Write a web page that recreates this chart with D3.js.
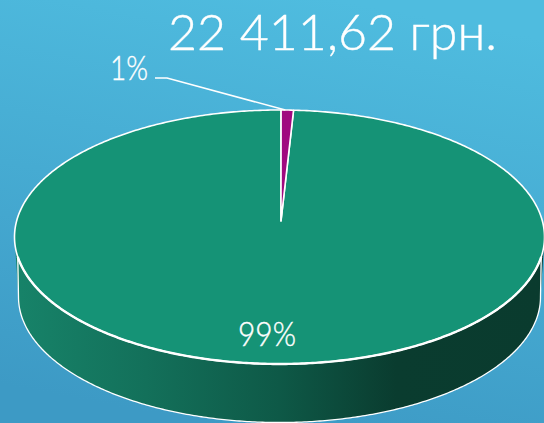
<!DOCTYPE html>
<html>
<head>
    <meta charset="utf-8">
    <title>pie</title>
    <script type="text/javascript" src="https://d3js.org/d3.v7.min.js"></script>
    <style>
        html,body{
            margin:0;
            padding:0;
            overflow:hidden;
        }
        text{
            font-family:"Lato",sans-serif;
            font-weight:300;
            fill:#fff;
            stroke:#fff;
            stroke-width:.4px;
        }
    </style>
</head>
<body>
<div id="chart"></div>
<script>
    // the two shares, small one first. rim width of the small slice says it is under 1 really
    var categories = ["small","rest"]
    var shares = [0.0075,0.9925]
    var sliceColors = ["#a0087f","#159376"]
    var title = "22 411,62 грн."

    var width = 544
    var height = 423

    // top face and bottom edge of the tilted disc
    var cx = 279.5, cy = 237, rx = 265, ry = 127
    var cxLow = 279.5, cyLow = 297, rxLow = 261, ryLow = 125.5
    var apex = [281,221]

    var svg = d3.select("#chart").append("svg")
        .attr("width",width)
        .attr("height",height)
        .style("display","block")

    var defs = svg.append("defs")

    var bg = defs.append("linearGradient").attr("id","bg")
        .attr("x1","62%").attr("y1","0%").attr("x2","38%").attr("y2","100%")
    bg.append("stop").attr("offset","0%").attr("stop-color","#4fbcdf")
    bg.append("stop").attr("offset","100%").attr("stop-color","#3d9ac5")

    var sideStops = [[0,"#178369"],[0.25,"#13705a"],[0.5,"#0e5947"],[0.72,"#0a3c2f"],[1,"#0a3b2e"]]
    var side = defs.append("linearGradient").attr("id","side")
    sideStops.forEach(function(s){
        side.append("stop").attr("offset",s[0]).attr("stop-color",s[1])
    })

    svg.append("rect")
        .attr("width",width)
        .attr("height",height)
        .attr("fill","url(#bg)")

    function rim(a){
        return [cx+rx*Math.sin(a),cy-ry*Math.cos(a)]
    }
    function rimLow(a){
        return [cxLow+rxLow*Math.sin(a),cyLow-ryLow*Math.cos(a)]
    }
    function steps(a0,a1){
        var n = Math.max(2,Math.ceil(Math.abs(a1-a0)/0.01))
        return d3.range(n+1).map(function(i){ return a0+(a1-a0)*i/n })
    }

    var line = d3.line()

    // wall of the disc
    var upper = steps(Math.PI/2,Math.PI*1.5).map(rim)
    var lower = steps(Math.PI*1.5,Math.PI/2).map(rimLow)
    svg.append("path")
        .attr("d",line(upper.concat(lower))+"Z")
        .attr("fill","url(#side)")
        .attr("stroke","none")
    svg.append("path")
        .attr("d",line([rim(Math.PI*1.45)].concat(lower,[rim(Math.PI*0.55)])))
        .attr("fill","none")
        .attr("stroke","#fff")
        .attr("stroke-width",1.3)

    var pie = d3.pie().sort(null).startAngle(0.006).endAngle(Math.PI*2+0.006)
    var arcs = pie(shares)

    // big slice goes down first so the small one stays on top
    svg.selectAll(".slice")
        .data(arcs.slice().reverse())
        .enter().append("path")
        .attr("class","slice")
        .attr("d",function(d){
            return line([apex].concat(steps(d.startAngle,d.endAngle).map(rim)))+"Z"
        })
        .attr("fill",function(d){ return sliceColors[d.index] })
        .attr("stroke","#fff")
        .attr("stroke-width",1.6)
        .attr("stroke-linejoin","round")

    // front edge of the face reads heavier than the back
    svg.append("path")
        .attr("d",line(steps(Math.PI*0.55,Math.PI*1.45).map(rim)))
        .attr("fill","none")
        .attr("stroke","#fff")
        .attr("stroke-width",2.4)

    // leader for the small slice
    var mid = rim((arcs[0].startAngle+arcs[0].endAngle)/2)
    svg.append("path")
        .attr("d",line([[155,78],[167,78],[mid[0]-2,mid[1]]]))
        .attr("fill","none")
        .attr("stroke","#fff")
        .attr("stroke-width",1.5)

    var pct = d3.format(".0%")

    svg.append("text")
        .attr("x",110).attr("y",80)
        .attr("font-size",33)
        .attr("textLength",38)
        .attr("lengthAdjust","spacingAndGlyphs")
        .text(pct(shares[0]))

    svg.append("text")
        .attr("x",238).attr("y",346)
        .attr("font-size",33)
        .attr("textLength",58)
        .attr("lengthAdjust","spacingAndGlyphs")
        .text(pct(shares[1]))

    svg.append("text")
        .attr("x",168).attr("y",50)
        .attr("font-size",49)
        .attr("textLength",329)
        .attr("lengthAdjust","spacingAndGlyphs")
        .text(title)
</script>
</body>
</html>
